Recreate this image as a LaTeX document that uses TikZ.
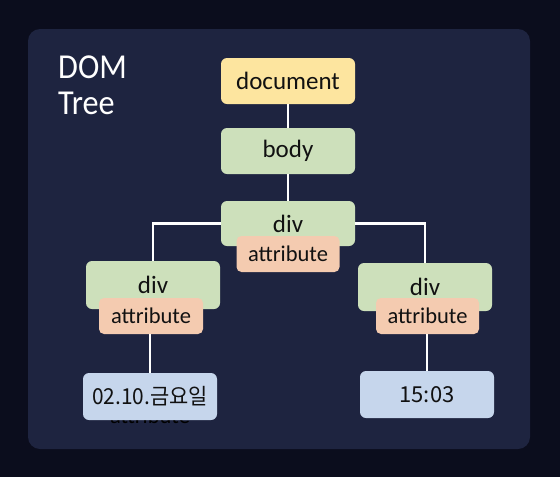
\documentclass[tikz,border=0pt]{standalone}
\usepackage{fontspec}
\setmainfont{Carlito}
\newfontfamily\titlefont[FakeStretch=0.92]{Carlito}
\newfontfamily\krfont{Noto Sans CJK KR}
\newfontfamily\krnarrow[FakeStretch=0.95]{Noto Sans CJK KR}
\definecolor{bgc}{HTML}{0B0D1D}
\definecolor{panelc}{HTML}{1E2440}
\definecolor{docc}{HTML}{FDE59F}
\definecolor{greenc}{HTML}{CDE0BB}
\definecolor{attrc}{HTML}{F4CBB0}
\definecolor{bluec}{HTML}{C6D6EC}
\definecolor{inkc}{HTML}{111111}
\tikzset{
  box/.style={rounded corners=6pt, minimum width=134pt, minimum height=46pt, inner sep=0pt, text=inkc, font=\fontsize{25}{29}\selectfont},
  attrbox/.style={rounded corners=5pt, fill=attrc, minimum width=103pt, minimum height=36pt, inner sep=0pt, text=inkc, font=\fontsize{22.5}{26}\selectfont},
  valbox/.style={box, fill=bluec, minimum height=47pt, font=\krfont\fontsize{22}{26}\selectfont},
  titletext/.style={anchor=base west, inner sep=0pt, text=white, font=\titlefont\fontsize{35}{40}\selectfont},
  link/.style={draw=white, line width=2.5pt},
}
\begin{document}
\begin{tikzpicture}[x=1pt,y=-1pt]
\fill[bgc] (0,0) rectangle (560,477);
\fill[panelc, rounded corners=12pt] (28,29) rectangle (530,449);
\useasboundingbox (0,0) rectangle (560,477);

\node[titletext] (t1) at (58,78) {DOM};
\node[titletext] (t2) at (58,114) {Tree};

\node[box, fill=docc] (doc) at (288,81) {document};
\node[box, fill=greenc] (body) at (288,151) {body};
\node[box, fill=greenc, minimum height=45pt] (div) at (288,223.5) {div};
\node[attrbox] (mattr) at (288,254) {attribute};

\node[box, fill=greenc, minimum height=48pt] (ldiv) at (153,285) {div};
\node[attrbox, minimum width=104pt] (lattr) at (151,316) {attribute};

\node[box, fill=greenc, minimum height=48pt] (rdiv) at (425,287) {div};
\node[attrbox] (rattr) at (427.5,316) {attribute};

\node[anchor=base, inner sep=0pt, text=black, font=\fontsize{22.5}{26}\selectfont] (hid) at (150,423) {attribute};
\node[valbox, font=\krnarrow\fontsize{22}{26}\selectfont] (date) at (150,396.5) {02.10.금요일};
\node[valbox] (time) at (427,394.5) {15:03};

\draw[link] (doc.south) -- (body.north);
\draw[link] (body.south) -- (div.north);
\draw[link] (div.west) -| (ldiv.north);
\draw[link] (div.east) -| (rdiv.north);
\draw[link] (lattr.south -| date.north) -- (date.north);
\draw[link] (rattr.south -| time.north) -- (time.north);
\end{tikzpicture}
\end{document}
